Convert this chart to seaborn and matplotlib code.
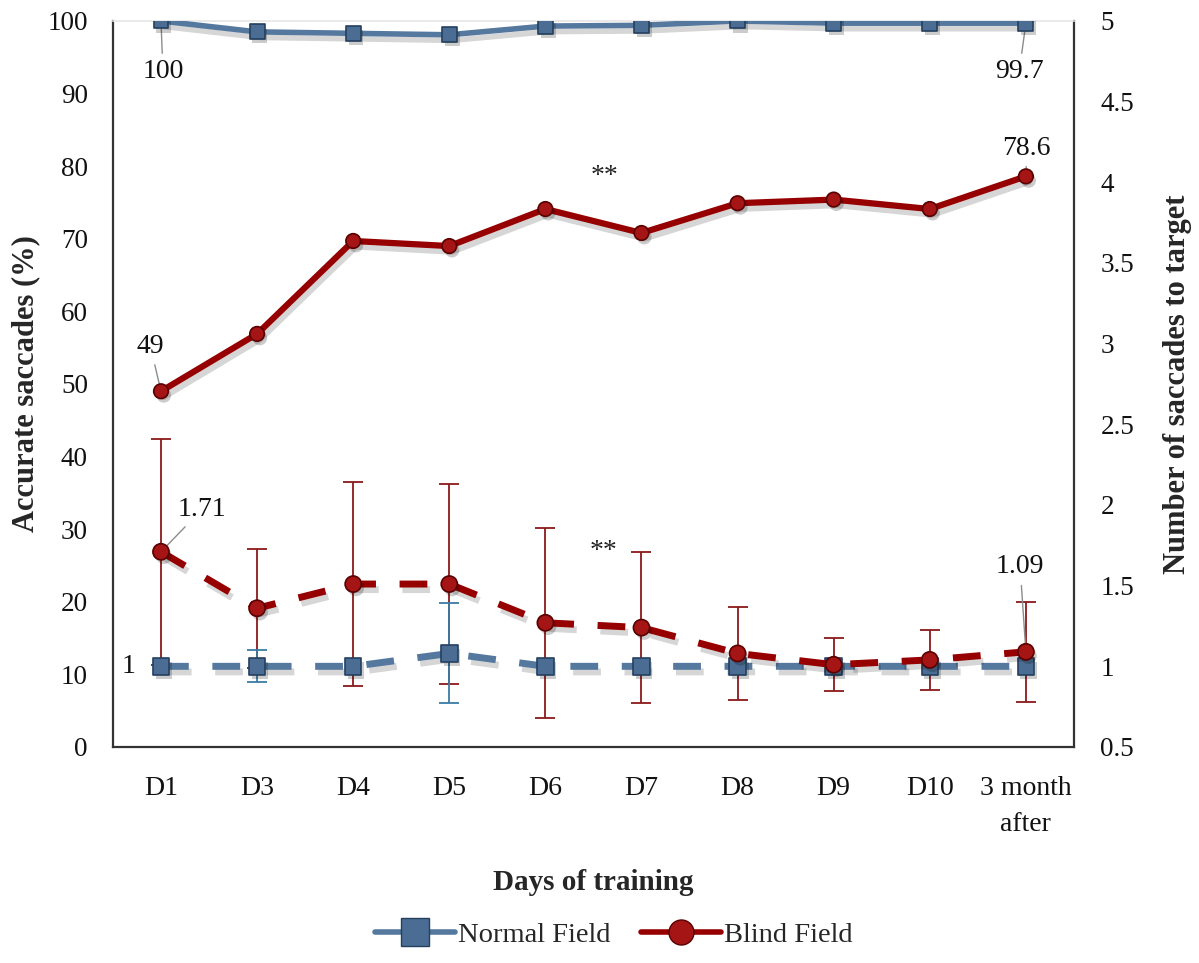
import numpy as np
import pandas as pd
import matplotlib
matplotlib.use("Agg")
import matplotlib.pyplot as plt
import matplotlib.patheffects as pe
from matplotlib.lines import Line2D
import seaborn as sns

# Training days
days = ["D1", "D3", "D4", "D5", "D6", "D7", "D8", "D9", "D10", "3 month\nafter"]

# Accurate saccades (%) - left axis
normal_accuracy = [100, 98.5, 98.3, 98.1, 99.3, 99.4, 100, 99.7, 99.7, 99.7]
blind_accuracy = [49, 56.9, 69.7, 69.0, 74.1, 70.8, 74.9, 75.4, 74.1, 78.6]

# Number of saccades to target - right axis
normal_saccades = [1, 1, 1, 1.08, 1, 1, 1, 1, 1, 1]
normal_saccades_err = [0, 0.1, 0, 0.31, 0, 0, 0, 0, 0, 0]
blind_saccades = [1.71, 1.36, 1.51, 1.51, 1.27, 1.24, 1.08, 1.01, 1.04, 1.09]
blind_saccades_err = [0.70, 0.37, 0.635, 0.62, 0.59, 0.47, 0.29, 0.165, 0.185, 0.31]

BLUE = "#55789e"
BLUE_MK = "#4b6d93"
BLUE_EDGE = "#24405f"
BLUE_ERR = "#3a7ca5"
RED = "#960000"
RED_MK = "#a51515"
RED_EDGE = "#5a0000"
RED_ERR = "#8b1a1a"

sns.set_theme(style="white")
plt.rcParams["font.family"] = ["Liberation Serif", "DejaVu Serif"]

pos = np.arange(len(days))
df = pd.DataFrame({
    "pos": pos,
    "normal_acc": normal_accuracy,
    "blind_acc": blind_accuracy,
    "normal_sac": normal_saccades,
    "blind_sac": blind_saccades,
})

fig = plt.figure(figsize=(11.99, 9.63), dpi=100)
ax = fig.add_axes([0.0942, 0.2243, 0.8015, 0.7539])
ax2 = ax.twinx()

line_fx = [pe.SimpleLineShadow(offset=(2, -4), shadow_color="black", alpha=0.16, rho=0.3),
           pe.Normal()]
mark_fx = [pe.SimplePatchShadow(offset=(2, -3), shadow_rgbFace="black", alpha=0.2),
           pe.Normal()]

# Error bars for the saccade counts (drawn beneath the lines)
ax2.errorbar(pos, blind_saccades, yerr=blind_saccades_err, fmt="none",
             ecolor=RED_ERR, elinewidth=1.3, capsize=7, capthick=1.3, zorder=1)
nz = [i for i, e in enumerate(normal_saccades_err) if e > 0]
ax2.errorbar(pos[nz], np.array(normal_saccades)[nz],
             yerr=np.array(normal_saccades_err)[nz], fmt="none",
             ecolor=BLUE_ERR, elinewidth=1.3, capsize=7, capthick=1.3, zorder=1)


def draw_series(axis, col, color, mface, medge, marker, msize, lw, ls, z):
    sns.lineplot(data=df, x="pos", y=col, ax=axis, color=color, lw=lw,
                 linestyle=ls, path_effects=line_fx, zorder=z)
    sns.scatterplot(data=df, x="pos", y=col, ax=axis, marker=marker, s=msize,
                    color=mface, edgecolor=medge, linewidth=1.2,
                    path_effects=mark_fx, zorder=z + 0.5)


# Accuracy lines (solid)
draw_series(ax, "normal_acc", BLUE, BLUE_MK, BLUE_EDGE, "s", 115, 4, "-", 3)
draw_series(ax, "blind_acc", RED, RED_MK, RED_EDGE, "o", 110, 4.5, "-", 3)

# Saccade-count lines (dashed)
dash = (0, (4, 3.4))
draw_series(ax2, "normal_sac", BLUE, BLUE_MK, BLUE_EDGE, "s", 140, 5, dash, 3)
draw_series(ax2, "blind_sac", RED, RED_MK, RED_EDGE, "o", 135, 5, dash, 4)

# Axes ranges and ticks
ax.set_xlim(-0.5, len(days) - 0.5)
ax.set_ylim(0, 100)
ax2.set_ylim(0.5, 5)
ax.set_yticks(np.arange(0, 101, 10))
r_ticks = np.arange(0.5, 5.01, 0.5)
ax2.set_yticks(r_ticks)
ax2.set_yticklabels([f"{t:g}" for t in r_ticks])
ax.set_xticks(pos)
ax.set_xticklabels(days, linespacing=1.55)

ax.tick_params(axis="y", length=0, pad=18, labelsize=19.5, colors="#111111")
ax.tick_params(axis="x", length=0, pad=21, labelsize=20, colors="#111111")
ax2.tick_params(axis="y", length=0, pad=19, labelsize=19.5, colors="#111111")

ax.set_xlabel("Days of training", fontsize=21, fontweight="bold")
ax.set_ylabel("Accurate saccades (%)", fontsize=22, fontweight="bold")
ax2.set_ylabel("Number of saccades to target", fontsize=22, fontweight="bold",
               rotation=90)
ax.xaxis.set_label_coords(0.5, -0.168)
ax.yaxis.set_label_coords(-0.076, 0.5)
ax2.yaxis.set_label_coords(1.093, 0.5)

# Frame with a soft drop shadow
frame_fx = [pe.SimplePatchShadow(offset=(4, -5), shadow_rgbFace="black", alpha=0.25),
            pe.Normal()]
for name in ["left", "bottom", "right"]:
    ax.spines[name].set_color("#333333")
    ax.spines[name].set_linewidth(1.6)
    ax.spines[name].set_path_effects(frame_fx)
ax.spines["top"].set_color("#e6e6e6")
ax.spines["top"].set_linewidth(1.2)
for name in ax2.spines:
    ax2.spines[name].set_visible(False)
ax.grid(False)
ax2.grid(False)

# Data labels with leader lines
lead = dict(arrowstyle="-", color="#8c8c8c", lw=1.0, shrinkA=2, shrinkB=2)
lab_kw = dict(fontsize=20, ha="center", va="center", color="#111111")
ax.annotate(f"{normal_accuracy[0]:g}", xy=(pos[0], normal_accuracy[0]),
            xytext=(0.02, 93), arrowprops=lead, **lab_kw)
ax.annotate(f"{normal_accuracy[-1]:g}", xy=(pos[-1], normal_accuracy[-1]),
            xytext=(8.93, 93), arrowprops=lead, **lab_kw)
ax.annotate(f"{blind_accuracy[-1]:g}", xy=(pos[-1], blind_accuracy[-1]),
            xytext=(9.01, 82.5), arrowprops=lead, **lab_kw)
ax.annotate(f"{blind_accuracy[0]:g}", xy=(pos[0], blind_accuracy[0]),
            xytext=(-0.11, 55.2), arrowprops=lead, **lab_kw)
ax2.annotate(f"{blind_saccades[0]:g}", xy=(pos[0], blind_saccades[0]),
             xytext=(0.43, 1.975), arrowprops=lead, **lab_kw)
ax2.annotate(f"{blind_saccades[-1]:g}", xy=(pos[-1], blind_saccades[-1]),
             xytext=(8.94, 1.616), arrowprops=lead, **lab_kw)
ax2.annotate(f"{normal_saccades[0]:g}", xy=(pos[0], normal_saccades[0]),
             xytext=(-0.34, 1.0), **lab_kw)

# Significance markers
ax.text(4.62, 78.6, "**", fontsize=20, ha="center", va="center", color="#222222")
ax.text(4.60, 26.9, "**", fontsize=20, ha="center", va="center", color="#222222")

# Legend
handles = [
    Line2D([0], [0], color=BLUE, lw=4, marker="s", markersize=20,
           markerfacecolor=BLUE_MK, markeredgecolor=BLUE_EDGE),
    Line2D([0], [0], color=RED, lw=4, marker="o", markersize=18,
           markerfacecolor=RED_MK, markeredgecolor=RED_EDGE),
]
fig.legend(handles, ["Normal Field", "Blind Field"], loc="center",
           bbox_to_anchor=(0.512, 0.029), ncol=2, frameon=False,
           fontsize=20.5, handlelength=2.8, handletextpad=0.1, columnspacing=1.1)

fig.savefig("out.png", dpi=100)
